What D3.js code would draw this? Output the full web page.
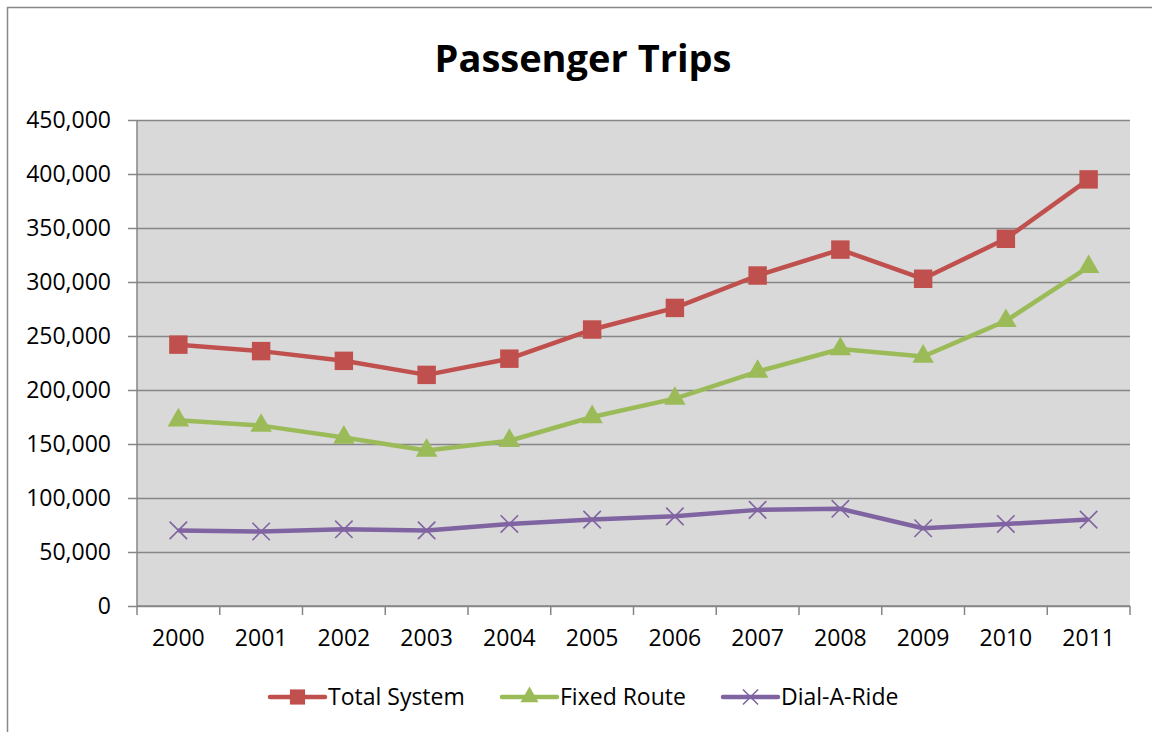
<!DOCTYPE html>
<html lang="en">
<head>
    <meta charset="UTF-8">
    <title>Passenger Trips</title>
    <script src="https://d3js.org/d3.v7.min.js"></script>
    <style>
        body {
            margin: 0;
            background: #ffffff;
            font-family: "Open Sans", Arial, sans-serif;
        }
        .axis text {
            font-family: "Open Sans", Arial, sans-serif;
            font-size: 23px;
            fill: #000;
        }
        .axis path, .axis line {
            stroke: #868686;
            stroke-width: 1.5;
        }
        .grid line {
            stroke: #868686;
            stroke-width: 1.5;
        }
        .grid path {
            display: none;
        }
    </style>
</head>
<body>
<div id="chart"></div>
<script>
    const years = ["2000", "2001", "2002", "2003", "2004", "2005", "2006", "2007", "2008", "2009", "2010", "2011"];
    const totalSystem = [242000, 236000, 227000, 214000, 229000, 256000, 276000, 306000, 330000, 303000, 340000, 395000];
    const fixedRoute = [172000, 167000, 156000, 144000, 153000, 175000, 192000, 217000, 238000, 231000, 264000, 314000];
    const dialARide = [70000, 69000, 71000, 70000, 76000, 80000, 83000, 89000, 90000, 72000, 76000, 80000];
    const yTicks = [0, 50000, 100000, 150000, 200000, 250000, 300000, 350000, 400000, 450000];

    const seriesNames = ["Total System", "Fixed Route", "Dial-A-Ride"];
    const seriesColors = ["#C0504D", "#9BBB59", "#8064A2"];

    const W = 1152, H = 732;
    const margin = { top: 120, right: 22, bottom: 126, left: 137 };
    const width = W - margin.left - margin.right;
    const height = H - margin.top - margin.bottom;

    const svg = d3.select("#chart").append("svg")
        .attr("width", W)
        .attr("height", H);

    // outer chart frame (only left/top edges are visible)
    svg.append("rect")
        .attr("x", 7.5).attr("y", 7.5)
        .attr("width", W + 20).attr("height", H + 20)
        .attr("fill", "#fff")
        .attr("stroke", "#888")
        .attr("stroke-width", 1.5);

    svg.append("text")
        .attr("x", 583)
        .attr("y", 72)
        .attr("text-anchor", "middle")
        .style("font-family", "'Open Sans', Arial, sans-serif")
        .style("font-weight", "bold")
        .style("font-size", "38px")
        .text("Passenger Trips");

    const g = svg.append("g")
        .attr("transform", `translate(${margin.left},${margin.top})`);

    const x = d3.scaleBand().domain(years).range([0, width]).padding(0);
    const y = d3.scaleLinear().domain([0, 450000]).range([height, 0]);

    g.append("rect")
        .attr("width", width)
        .attr("height", height)
        .attr("fill", "#D9D9D9");

    // gridlines
    g.append("g")
        .attr("class", "grid")
        .call(d3.axisLeft(y).tickValues(yTicks).tickSize(-width).tickFormat(""));

    // y axis
    const yAxis = g.append("g")
        .attr("class", "axis")
        .call(d3.axisLeft(y).tickValues(yTicks).tickSize(9).tickPadding(17).tickFormat(d3.format(",")));
    yAxis.select(".domain").attr("d", `M0,0V${height}`);

    // x axis: labels at band centres, ticks at band edges
    const xAxis = g.append("g")
        .attr("class", "axis")
        .attr("transform", `translate(0,${height})`)
        .call(d3.axisBottom(x).tickSize(0).tickPadding(24));
    xAxis.select(".domain").attr("d", `M0,0H${width}`);
    xAxis.selectAll(".edge")
        .data(years.map(d => x(d)).concat([x.range()[1]]))
        .enter().append("line")
        .attr("class", "edge")
        .attr("x1", d => d).attr("x2", d => d)
        .attr("y1", 0).attr("y2", 9);

    const line = d3.line()
        .x((d, i) => x(years[i]) + x.bandwidth() / 2)
        .y(d => y(d));

    const allSeries = [totalSystem, fixedRoute, dialARide];
    const symbols = [
        d3.symbol().type(d3.symbolSquare).size(340),
        d3.symbol().type(d3.symbolTriangle).size(200),
        d3.symbol().type(d3.symbolTimes).size(200)
    ];

    allSeries.forEach((vals, k) => {
        g.append("path")
            .datum(vals)
            .attr("fill", "none")
            .attr("stroke", seriesColors[k])
            .attr("stroke-width", 4.5)
            .attr("stroke-linejoin", "round")
            .attr("d", line);

        g.selectAll(".m" + k)
            .data(vals)
            .enter().append("path")
            .attr("class", "m" + k)
            .attr("transform", (d, i) => `translate(${x(years[i]) + x.bandwidth() / 2},${y(d)})`)
            .attr("d", symbols[k])
            .attr("fill", k === 2 ? "none" : seriesColors[k])
            .attr("stroke", seriesColors[k])
            .attr("stroke-width", k === 2 ? 1.6 : 0);
    });

    // legend
    const legendX = [270, 502, 723];
    const legendY = 697;
    const legendSymbols = [
        d3.symbol().type(d3.symbolSquare).size(230),
        d3.symbol().type(d3.symbolTriangle).size(140),
        d3.symbol().type(d3.symbolTimes).size(150)
    ];
    const legend = svg.selectAll(".legend")
        .data(seriesNames)
        .enter().append("g")
        .attr("class", "legend")
        .attr("transform", (d, i) => `translate(${legendX[i]},${legendY})`);

    legend.append("line")
        .attr("x1", 0).attr("x2", 55)
        .attr("stroke", (d, i) => seriesColors[i])
        .attr("stroke-width", 4.5)
        .attr("stroke-linecap", "round");

    legend.append("path")
        .attr("transform", "translate(27.5,0)")
        .attr("d", (d, i) => legendSymbols[i]())
        .attr("fill", (d, i) => i === 2 ? "none" : seriesColors[i])
        .attr("stroke", (d, i) => seriesColors[i])
        .attr("stroke-width", (d, i) => i === 2 ? 1.6 : 0);

    legend.append("text")
        .attr("x", 58)
        .attr("dy", "0.35em")
        .style("font-family", "'Open Sans', Arial, sans-serif")
        .style("font-size", "23px")
        .text(d => d);
</script>
</body>
</html>
